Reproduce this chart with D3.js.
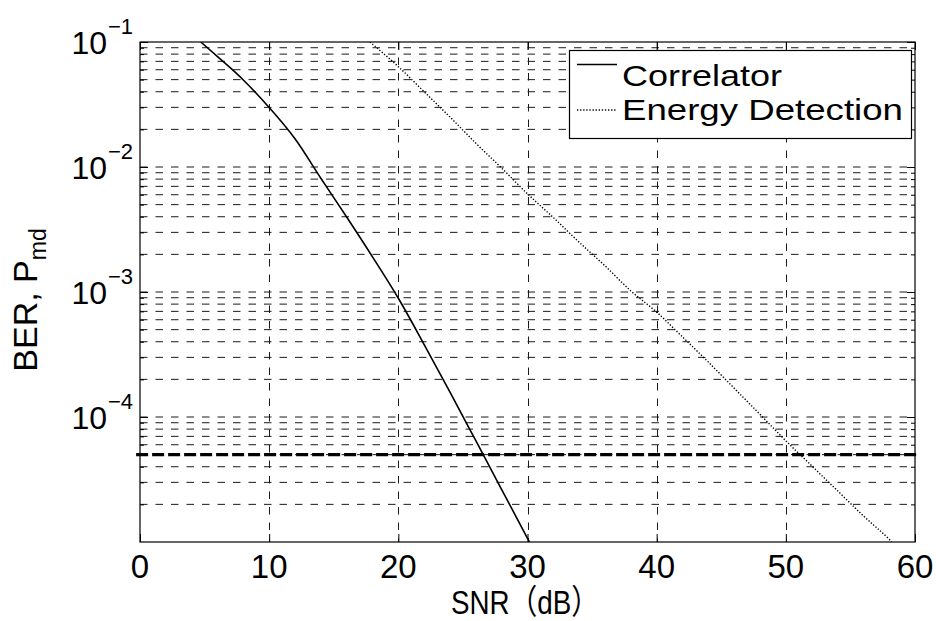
<!DOCTYPE html>
<html><head><meta charset="utf-8">
<script src="https://cdn.jsdelivr.net/npm/d3@7"></script>
<style>body{margin:0;background:#fff}svg{display:block}</style>
</head><body>
<svg id="c" width="936" height="621"></svg>
<script>
// ---- data ----
const xTickValues = [0, 10, 20, 30, 40, 50, 60];
const yMajorValues = [1e-1, 1e-2, 1e-3, 1e-4];
const yMajorExponents = ["\u22121", "\u22122", "\u22123", "\u22124"];
const corrSNR = [4.7, 6, 8, 10, 12, 14, 16, 18, 20, 22, 24, 26, 28, 30, 30.15];
const corrBER = [0.1, 0.0764, 0.0497, 0.0299, 0.0168, 0.00813, 0.00398, 0.00191,
                 0.000891, 0.00038, 0.000158, 0.0000646, 0.0000263, 0.0000107, 0.00001];
const edSNR = [17.8, 20, 22, 24, 26, 28, 30, 32, 34, 36, 38, 40, 42, 44, 46, 48, 50, 52, 54, 56, 58, 58.2];
const edBER = [0.1, 0.0635, 0.040, 0.0251, 0.0155, 0.0098, 0.0061, 0.00394, 0.0025, 0.00162,
               0.00102, 0.00069, 0.000437, 0.000275, 0.00017, 0.000105, 0.0000645, 0.0000407,
               0.0000257, 0.0000162, 0.0000105, 0.00001];
const thresholdBER = 5e-5;
const thresholdSNR = [-0.3, 60.25];
const legendLabels = ["Correlator", "Energy Detection"];
const xLabel = "SNR\uFF08dB\uFF09";
const yLabelMain = "BER, P";
const yLabelSub = "md";

// ---- layout ----
const L = 140, R = 915, T = 42, B = 542;
const FONT = "'Liberation Sans', Arial, 'Noto Sans CJK JP', sans-serif";
const svg = d3.select("#c");
const x = d3.scaleLinear().domain([0, 60]).range([L, R]);
const y = d3.scaleLog().domain([1e-5, 1e-1]).range([B, T]);

const allYTicks = y.ticks();  // 1..9 per decade
const yMinor = allYTicks.filter(v => !yMajorValues.some(m => Math.abs(Math.log10(v) - Math.log10(m)) < 1e-9) && v > 1.0001e-5 && v < 0.0999);
const yGrid = allYTicks.filter(v => v > 1.0001e-5 && v < 0.0999);

svg.append("defs").append("clipPath").attr("id", "plot")
  .append("rect").attr("x", L).attr("y", T).attr("width", R - L).attr("height", B - T);

// grid
const grid = svg.append("g").attr("stroke", "#1a1a1a").attr("stroke-width", 1)
  .attr("stroke-dasharray", "7.5,8").attr("fill", "none");
grid.selectAll("line.h").data(yGrid).join("line").attr("class", "h")
  .attr("x1", L).attr("x2", R).attr("y1", d => y(d)).attr("y2", d => y(d));
grid.selectAll("line.v").data(xTickValues.slice(1, -1)).join("line").attr("class", "v")
  .attr("x1", d => Math.round(x(d)) + 0.5).attr("x2", d => Math.round(x(d)) + 0.5).attr("y1", T).attr("y2", B);

// axes ticks (inward, all four sides)
function ticks(axisFn, vals, size, transform) {
  const g = svg.append("g").attr("transform", transform)
    .call(axisFn.tickValues(vals).tickSizeInner(size).tickSizeOuter(0).tickFormat(""));
  g.select(".domain").remove();
  g.selectAll("line").attr("stroke", "#000").attr("stroke-width", 1);
}
ticks(d3.axisLeft(y), yMajorValues, -8, `translate(${L},0)`);
ticks(d3.axisLeft(y), yMinor, -4, `translate(${L},0)`);
ticks(d3.axisRight(y), yMajorValues, -8, `translate(${R},0)`);
ticks(d3.axisRight(y), yMinor, -4, `translate(${R},0)`);
ticks(d3.axisBottom(x), xTickValues, -8, `translate(0,${B})`);
ticks(d3.axisTop(x), xTickValues, -8, `translate(0,${T})`);

// threshold line
svg.append("line")
  .attr("x1", x(thresholdSNR[0])).attr("x2", x(thresholdSNR[1]))
  .attr("y1", y(thresholdBER)).attr("y2", y(thresholdBER))
  .attr("stroke", "#000").attr("stroke-width", 3.2).attr("stroke-dasharray", "12,4");

// curves
const line = d3.line().x(d => x(d[0])).y(d => y(d[1])).curve(d3.curveMonotoneX);
const curves = svg.append("g").attr("clip-path", "url(#plot)").attr("fill", "none").attr("stroke", "#000");
curves.append("path").datum(d3.zip(corrSNR, corrBER)).attr("d", line).attr("stroke-width", 1.6);
curves.append("path").datum(d3.zip(edSNR, edBER)).attr("d", line)
  .attr("stroke-width", 1.4).attr("stroke-dasharray", "1.3,1.8");

// box
svg.append("rect").attr("x", L).attr("y", T).attr("width", R - L).attr("height", B - T)
  .attr("fill", "none").attr("stroke", "#000").attr("stroke-width", 1.2);

// x tick labels
svg.append("g").selectAll("text").data(xTickValues).join("text")
  .attr("x", d => x(d)).attr("y", 578).attr("text-anchor", "middle")
  .attr("font-family", FONT).attr("font-size", 33).text(d => d);

// y tick labels 10^-n
const yl = svg.append("g").attr("font-family", FONT);
yMajorValues.forEach((v, i) => {
  yl.append("text").attr("x", 107).attr("y", y(v) + 11.5).attr("text-anchor", "end")
    .attr("font-size", 32).text("10");
  yl.append("text").attr("x", 108).attr("y", y(v) - 8.5).attr("font-size", 22).text(yMajorExponents[i]);
});

// axis labels
svg.append("text").attr("x", 525).attr("y", 614).attr("text-anchor", "middle")
  .attr("font-family", FONT).attr("font-size", 34)
  .attr("textLength", 148).attr("lengthAdjust", "spacingAndGlyphs").text(xLabel);
const ylab = svg.append("text").attr("transform", "translate(37,300) rotate(-90)")
  .attr("text-anchor", "middle").attr("font-family", FONT).attr("font-size", 34);
ylab.append("tspan").text(yLabelMain);
ylab.append("tspan").attr("dy", 9).attr("font-size", 23).text(yLabelSub);

// legend
const lg = svg.append("g");
lg.append("rect").attr("x", 569.5).attr("y", 50.5).attr("width", 342).attr("height", 88)
  .attr("fill", "#fff").attr("stroke", "#000").attr("stroke-width", 1.2);
const legendRows = [{dash: null, ly: 64.5, ty: 85.5, w: 160}, {dash: "1.3,1.8", ly: 110, ty: 119.5, w: 281}];
legendRows.forEach((r, i) => {
  const l = lg.append("line").attr("x1", 577).attr("x2", 617).attr("y1", r.ly).attr("y2", r.ly)
    .attr("stroke", "#000").attr("stroke-width", i === 0 ? 1.6 : 1.4);
  if (r.dash) l.attr("stroke-dasharray", r.dash);
  lg.append("text").attr("x", 622).attr("y", r.ty).attr("font-family", FONT).attr("font-size", 30)
    .attr("textLength", r.w).attr("lengthAdjust", "spacingAndGlyphs").text(legendLabels[i]);
});
</script>
</body></html>
